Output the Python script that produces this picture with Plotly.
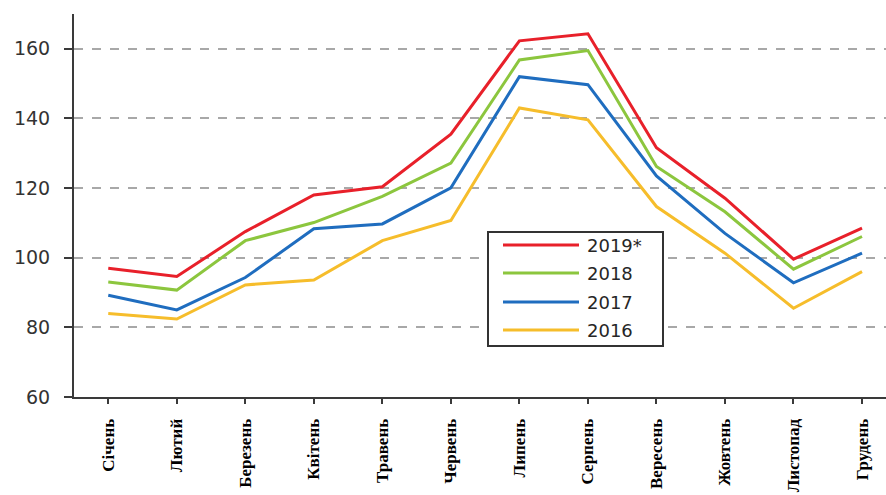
import plotly.graph_objects as go

months = ["Січень", "Лютий", "Березень", "Квітень", "Травень", "Червень",
          "Липень", "Серпень", "Вересень", "Жовтень", "Листопад", "Грудень"]

y2019 = [97.0, 94.6, 107.5, 118.0, 120.4, 135.5, 162.3, 164.3, 131.6, 117.1, 99.6, 108.5]
y2018 = [93.0, 90.7, 104.9, 110.1, 117.6, 127.2, 156.8, 159.5, 126.2, 113.2, 96.7, 106.1]
y2017 = [89.2, 85.0, 94.3, 108.3, 109.7, 120.1, 152.0, 149.7, 123.5, 107.0, 92.8, 101.3]
y2016 = [84.0, 82.4, 92.2, 93.6, 104.9, 110.7, 143.0, 139.6, 114.7, 101.3, 85.5, 96.0]

series_names = ["2019*", "2018", "2017", "2016"]
series_values = [y2019, y2018, y2017, y2016]
series_colors = ["#e8202a", "#8cc63e", "#1f6dbf", "#f6bd2b"]

y_ticks = [60, 80, 100, 120, 140, 160]

W, H = 886, 495
ML, MR, MT, MB = 74, 0, 14, 98
PW, PH = W - ML - MR, H - MT - MB

fig = go.Figure()
# draw back to front so that 2019* is on top
for name, vals, col in reversed(list(zip(series_names, series_values, series_colors))):
    fig.add_trace(go.Scatter(x=list(range(len(months))), y=vals, mode="lines",
                             name=name, line=dict(color=col, width=3),
                             showlegend=False, hoverinfo="skip"))

axis_col = "#3a3a3a"
fig.update_layout(
    width=W, height=H,
    margin=dict(l=ML, r=MR, t=MT, b=MB),
    paper_bgcolor="white", plot_bgcolor="white",
    xaxis=dict(
        range=[-0.5, 11.35],
        tickmode="array", tickvals=list(range(len(months))), ticktext=months,
        tickangle=-90,
        tickfont=dict(family="Liberation Serif", size=17, color="black", weight="bold"),
        showline=True, linecolor=axis_col, linewidth=2,
        ticks="outside", ticklen=5, tickwidth=2, tickcolor=axis_col,
        ticklabelstandoff=8,
        showgrid=False, zeroline=False, automargin=False,
    ),
    yaxis=dict(
        range=[60, 170],
        tickmode="array", tickvals=y_ticks,
        tickfont=dict(family="DejaVu Sans", size=19, color="#333333"),
        showline=True, linecolor=axis_col, linewidth=2,
        ticks="outside", ticklen=8, tickwidth=2, tickcolor=axis_col,
        ticklabelstandoff=10,
        showgrid=True, gridcolor="#a8a8a8", gridwidth=2, griddash="dash",
        zeroline=False, automargin=False,
    ),
)

# custom legend box (long line samples as in the original)
def px_x(px):
    return (px - ML) / PW

def px_y(py):
    return (H - MB - py) / PH

shapes = [dict(type="rect", xref="paper", yref="paper",
               x0=px_x(488), x1=px_x(663), y0=px_y(346), y1=px_y(232),
               line=dict(color="#333333", width=2), fillcolor="white", layer="above")]
annotations = []
row_y = [245, 273, 302, 330]
for name, col, ry in zip(series_names, series_colors, row_y):
    shapes.append(dict(type="line", xref="paper", yref="paper",
                       x0=px_x(503), x1=px_x(579), y0=px_y(ry), y1=px_y(ry),
                       line=dict(color=col, width=3), layer="above"))
    annotations.append(dict(xref="paper", yref="paper", x=px_x(585), y=px_y(ry),
                            text=name, showarrow=False, xanchor="left", yanchor="middle",
                            font=dict(family="DejaVu Sans", size=18, color="#262626")))
fig.update_layout(shapes=shapes, annotations=annotations)

fig.write_html("out.html", config={"displayModeBar": False},
               post_script="document.body.style.margin='0px';document.body.style.overflow='hidden';")
